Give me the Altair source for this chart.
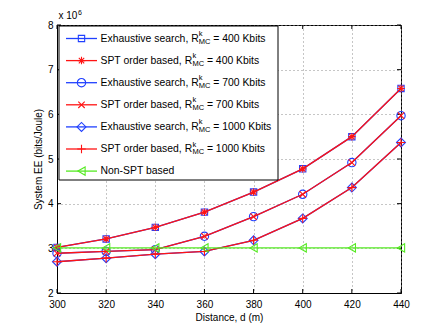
import altair as alt
import pandas as pd

# ---------------- data ----------------
distance = [300, 320, 340, 360, 380, 400, 420, 440]
exh_400 = [3.02, 3.21, 3.47, 3.81, 4.26, 4.78, 5.50, 6.58]
spt_400 = [3.02, 3.21, 3.47, 3.81, 4.26, 4.78, 5.50, 6.58]
exh_700 = [2.89, 2.93, 2.97, 3.27, 3.71, 4.21, 4.92, 5.97]
spt_700 = [2.89, 2.93, 2.97, 3.27, 3.71, 4.21, 4.92, 5.97]
exh_1000 = [2.70, 2.78, 2.87, 2.93, 3.18, 3.67, 4.36, 5.37]
spt_1000 = [2.70, 2.78, 2.87, 2.93, 3.18, 3.67, 4.36, 5.37]
non_spt = [3.01, 3.01, 3.01, 3.01, 3.01, 3.01, 3.01, 3.01]

y_ticks = [2, 3, 4, 5, 6, 7, 8]
legend_main = ["Exhaustive search, R", "SPT order based, R",
               "Exhaustive search, R", "SPT order based, R",
               "Exhaustive search, R", "SPT order based, R",
               "Non-SPT based"]
legend_rate = ["= 400 Kbits", "= 400 Kbits", "= 700 Kbits", "= 700 Kbits",
               "= 1000 Kbits", "= 1000 Kbits", ""]

# ---------------- styling ----------------
W, H = 344, 268
FONT = "Liberation Sans"
BLUE = "#2040ff"
RED = "#ff1414"
GREEN = "#55ea22"
ASTER = "M-1,0L1,0M0,-1L0,1M-0.72,-0.72L0.72,0.72M-0.72,0.72L0.72,-0.72"
XSHAPE = "M-0.8,-0.8L0.8,0.8M-0.8,0.8L0.8,-0.8"
PLUS = "M-1,0L1,0M0,-1L0,1"

series = [
    (exh_400, BLUE, "square", 40),
    (spt_400, RED, ASTER, 56),
    (exh_700, BLUE, "circle", 70),
    (spt_700, RED, XSHAPE, 64),
    (exh_1000, BLUE, "diamond", 80),
    (spt_1000, RED, PLUS, 72),
    (non_spt, GREEN, "triangle-left", 70),
]

x_enc = alt.X(
    "d:Q",
    scale=alt.Scale(domain=[300, 440], nice=False, zero=False),
    axis=alt.Axis(values=distance, title="Distance, d (m)", titleY=19,
                  titleBaseline="top",
                  labelPadding=6, tickSize=0, grid=True, labelFlush=False),
)
y_enc = alt.Y(
    "ee:Q",
    scale=alt.Scale(domain=[2, 8], nice=False, zero=False),
    axis=alt.Axis(values=y_ticks, title="System EE (bits/Joule)", titleX=-14,
                  titleY=H / 2, labelPadding=4, tickSize=0, grid=True,
                  format="d", labelFlush=False),
)

one = pd.DataFrame({"a": [0]})
layers = []

# inward ticks on all four sides
xt = pd.DataFrame({"d": distance})
yt = pd.DataFrame({"ee": y_ticks})
for y0, y1 in [(H, H - 4), (0, 4)]:
    layers.append(alt.Chart(xt).mark_rule(color="black", strokeWidth=1).encode(
        x=x_enc, y=alt.value(y0), y2=alt.value(y1)))
for x0, x1 in [(0, 4), (W, W - 4)]:
    layers.append(alt.Chart(yt).mark_rule(color="black", strokeWidth=1).encode(
        y=y_enc, x=alt.value(x0), x2=alt.value(x1)))

# data series
for vals, color, shape, size in series:
    df = pd.DataFrame({"d": distance, "ee": vals})
    base = alt.Chart(df).encode(x=x_enc, y=y_enc)
    layers.append(base.mark_line(color=color, strokeWidth=1.3))
    layers.append(base.mark_point(shape=shape, size=size, color=color,
                                  filled=False, strokeWidth=1.1, opacity=1))

# legend box
layers.append(alt.Chart(one).mark_rect(fill="white", stroke="black", strokeWidth=1).encode(
    x=alt.value(2), x2=alt.value(221), y=alt.value(1), y2=alt.value(155)))

ROW0, ROWSTEP = 13.5, 22.1
for i, (vals, color, shape, size) in enumerate(series):
    ry = ROW0 + ROWSTEP * i
    layers.append(alt.Chart(one).mark_rule(color=color, strokeWidth=1.3).encode(
        x=alt.value(9), x2=alt.value(40), y=alt.value(ry)))
    layers.append(alt.Chart(one).mark_point(shape=shape, size=size, color=color,
                                            filled=False, strokeWidth=1.1, opacity=1).encode(
        x=alt.value(24.5), y=alt.value(ry)))

# legend texts (with R^k_MC built from pieces)
EM = {"Exhaustive search, R": 9.448, "SPT order based, R": 8.837}
FS = 10.4
rows = []
for i, (main, rate) in enumerate(zip(legend_main, legend_rate)):
    ry = ROW0 + ROWSTEP * i
    rows.append({"lx": 43.5, "ly": ry, "txt": main, "fs": FS})
    if rate:
        sx = 43.5 + EM[main] * FS
        rows.append({"lx": sx, "ly": ry - 4.5, "txt": "k", "fs": 7.5})
        rows.append({"lx": sx, "ly": ry + 3.0, "txt": "MC", "fs": 7.5})
        rows.append({"lx": sx + 14.5, "ly": ry, "txt": rate, "fs": FS})
rows.append({"lx": 1.5, "ly": -9, "txt": "x 10", "fs": 10})
rows.append({"lx": 21, "ly": -12.5, "txt": "6", "fs": 7})
tdf = pd.DataFrame(rows)
layers.append(alt.Chart(tdf).mark_text(align="left", baseline="middle", font=FONT,
                                       color="black").encode(
    x=alt.X("lx:Q", scale=None, axis=None),
    y=alt.Y("ly:Q", scale=None, axis=None),
    text="txt:N",
    size=alt.Size("fs:Q", scale=None, legend=None),
))

chart = alt.layer(*layers).properties(
    width=W, height=H,
    autosize=alt.AutoSizeParams(type="none"),
    padding={"left": 49, "top": 17, "right": 34, "bottom": 31},
).configure_view(stroke="black", strokeWidth=1).configure_axis(
    labelFont=FONT, titleFont=FONT, labelFontSize=10, titleFontSize=10,
    labelColor="black", titleColor="black", titleFontWeight="normal",
    domainColor="black", domainWidth=1,
    gridColor="#8c8c8c", gridDash=[1, 3], gridWidth=1,
)

chart.save("out.html", embed_options={"renderer": "svg", "actions": False})
